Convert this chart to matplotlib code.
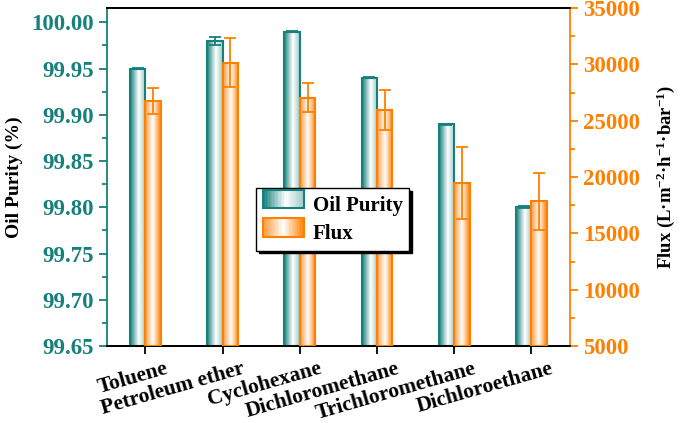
import numpy as np
import matplotlib
matplotlib.use('Agg')
import matplotlib.pyplot as plt
from matplotlib.colors import LinearSegmentedColormap
from matplotlib.patches import Rectangle
from matplotlib.ticker import MultipleLocator
from matplotlib.transforms import ScaledTranslation

plt.rcParams['font.family'] = 'Liberation Serif'
plt.rcParams['font.weight'] = 'bold'
plt.rcParams['mathtext.fontset'] = 'custom'
plt.rcParams['mathtext.rm'] = 'Liberation Serif:bold'
plt.rcParams['mathtext.it'] = 'Liberation Serif:bold'
plt.rcParams['mathtext.bf'] = 'Liberation Serif:bold'
plt.rcParams['mathtext.default'] = 'bf'

solvents = ['Toluene', 'Petroleum ether', 'Cyclohexane', 'Dichloromethane',
            'Trichloromethane', 'Dichloroethane']
purity = [99.950, 99.980, 99.990, 99.940, 99.890, 99.800]
purity_err = [0.0005, 0.0045, 0.0008, 0.0005, 0.0005, 0.0012]
flux = [26750, 30150, 27050, 25950, 19450, 17850]
flux_err = [1150, 2200, 1300, 1800, 3200, 2550]

teal = '#16807B'
orange = '#FF8000'
teal_cmap = LinearSegmentedColormap.from_list('t', [(0, teal), (0.55, 'white'), (1, '#9ccac7')])
orange_cmap = LinearSegmentedColormap.from_list('o', [(0, '#ff9a40'), (0.5, 'white'), (1, orange)])

fig = plt.figure(figsize=(6.85, 4.23), dpi=100)
ax = fig.add_axes([0.156, 0.182, 0.676, 0.799])
ax2 = ax.twinx()

x = np.arange(1, len(solvents) + 1)
w = 0.2
grad = np.linspace(0, 1, 64).reshape(1, -1)

def grad_bars(a, xs, vals, base, cmap, color, z):
    bars = a.bar(xs, np.array(vals) - base, w, bottom=base, facecolor='none',
                 edgecolor=color, linewidth=1.5, zorder=z + 1)
    for b in bars:
        x0, y0 = b.get_x(), b.get_y()
        im = a.imshow(grad, extent=[x0, x0 + b.get_width(), y0, y0 + b.get_height()],
                      aspect='auto', cmap=cmap, zorder=z, interpolation='bilinear')
        im.set_clip_path(b)
    return bars

grad_bars(ax, x - w / 2, purity, 99.65, teal_cmap, teal, 2)
ax.errorbar(x - w / 2, purity, yerr=purity_err, fmt='none', ecolor=teal,
            capsize=4, elinewidth=1.3, capthick=1.3, zorder=4)
grad_bars(ax2, x + w / 2, flux, 5000, orange_cmap, orange, 2)
ax2.errorbar(x + w / 2, flux, yerr=flux_err, fmt='none', ecolor=orange,
             capsize=4, elinewidth=1.3, capthick=1.3, zorder=4)

ax.set_xlim(0.5, 6.5)
ax.set_ylim(99.65, 100.0155)
ax2.set_ylim(5000, 35000)
ax2.set_xlim(0.5, 6.5)

ax.yaxis.set_minor_locator(MultipleLocator(0.025))
ax2.yaxis.set_major_locator(MultipleLocator(5000))
ax2.yaxis.set_minor_locator(MultipleLocator(2500))
yt = np.arange(99.65, 100.001, 0.05)
ax.set_yticks(yt)
ax.set_yticklabels(['%.2f' % v for v in yt])

for a in (ax, ax2):
    for s in a.spines.values():
        s.set_linewidth(1.3)
ax.spines['left'].set_color(teal)
ax2.spines['left'].set_visible(False)
ax2.spines['right'].set_color(orange)
ax.spines['right'].set_visible(False)

ax.tick_params(axis='y', which='major', length=6, width=1.3, colors=teal, labelsize=16.5)
ax.tick_params(axis='y', which='minor', length=3.5, width=1.3, colors=teal)
ax2.tick_params(axis='y', which='major', length=6, width=1.3, colors=orange, labelsize=16.5)
ax2.tick_params(axis='y', which='minor', length=3.5, width=1.3, colors=orange)
ax.tick_params(axis='x', length=6, width=1.3, labelsize=15.5, pad=3)

ax.set_xticks(x)
ax.set_xticklabels(solvents, rotation=16, ha='right', rotation_mode='anchor')
for lab in ax.get_xticklabels():
    lab.set_transform(lab.get_transform() + ScaledTranslation(0.19, 0, fig.dpi_scale_trans))

ax.set_ylabel('Oil Purity (%)', fontsize=14, fontweight='bold', labelpad=6)
ax2.set_ylabel('Flux (L·m$^{-2}$·h$^{-1}$·bar$^{-1}$)',
               fontsize=13.5, fontweight='bold', labelpad=10)

class GradHandler:
    def __init__(self, cmap, color):
        self.cmap, self.color = cmap, color
    def legend_artist(self, legend, orig_handle, fontsize, handlebox):
        x0, y0 = handlebox.xdescent, handlebox.ydescent
        wd, ht = handlebox.width, handlebox.height
        n = 30
        for i in range(n):
            r = Rectangle((x0 + wd * i / n, y0), wd / n + 0.3, ht,
                          facecolor=self.cmap(i / (n - 1)), edgecolor='none',
                          transform=handlebox.get_transform())
            handlebox.add_artist(r)
        edge = Rectangle((x0, y0), wd, ht, facecolor='none', edgecolor=self.color,
                         linewidth=1.5, transform=handlebox.get_transform())
        handlebox.add_artist(edge)
        return edge

h1 = Rectangle((0, 0), 1, 1)
h2 = Rectangle((0, 0), 1, 1)
leg = ax2.legend([h1, h2], ['Oil Purity', 'Flux'],
                 handler_map={h1: GradHandler(teal_cmap, teal), h2: GradHandler(orange_cmap, orange)},
                 loc='upper left', bbox_to_anchor=(0.323, 0.468), fancybox=False,
                 edgecolor='black', framealpha=1, shadow={'color': 'black', 'alpha': 1},
                 prop={'weight': 'bold', 'size': 15}, handlelength=2.0, handleheight=1.0,
                 borderpad=0.3, labelspacing=0.35, handletextpad=0.4, borderaxespad=0)
leg.get_frame().set_linewidth(1.0)
leg.set_zorder(10)

fig.savefig('out.png', dpi=100)
